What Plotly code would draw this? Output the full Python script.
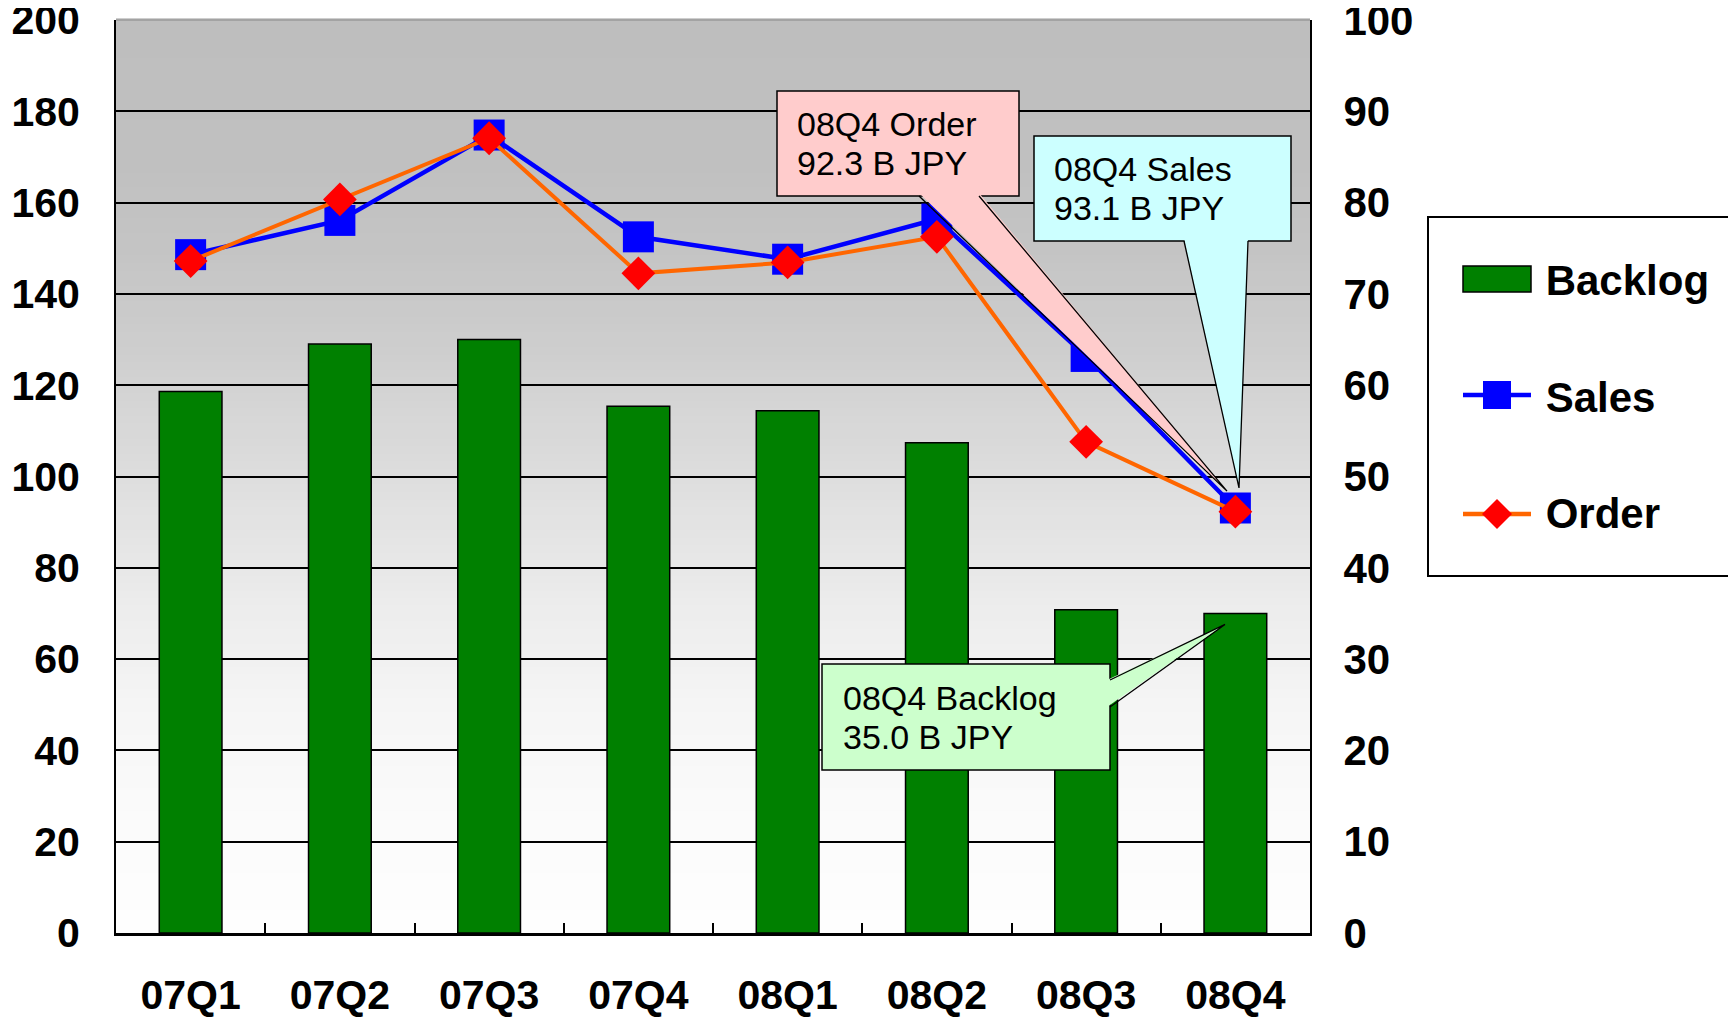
import plotly.graph_objects as go

# ---------------- data ----------------
categories = ["07Q1", "07Q2", "07Q3", "07Q4", "08Q1", "08Q2", "08Q3", "08Q4"]
backlog = [59.3, 64.5, 65.0, 57.7, 57.2, 53.7, 35.4, 35.0]      # right axis (B JPY)
sales = [148.6, 156.1, 174.8, 152.5, 147.6, 156.4, 126.3, 93.1]  # left axis (B JPY)
order = [147.2, 160.7, 174.1, 144.5, 146.9, 152.5, 107.6, 92.3]  # left axis (B JPY)
left_ticks = list(range(0, 201, 20))
right_ticks = list(range(0, 101, 10))
series_names = ["Backlog", "Sales", "Order"]
LEFT_MAX, RIGHT_MAX = 200, 100

# ---------------- layout geometry (screen pixels) ----------------
OFF = 8                      # page body margin
W, H = 1736 - OFF, 1018 - OFF
PL, PR, PT, PB = 116, 1310, 20, 933
NCAT = len(categories)

GREEN, BLUE, ORANGE, RED = "#008000", "#0000FF", "#FF6600", "#FF0000"


def px_x(px):
    return (px - PL) / (PR - PL) * NCAT - 0.5


def px_y(py):
    return (PB - py) / (PB - PT) * LEFT_MAX


def pap_x(px):
    return (px - PL) / (PR - PL)


def pap_y(py):
    return (PB - py) / (PB - PT)


xs = list(range(NCAT))
SANS = "Liberation Sans, Arial, sans-serif"
BOLD = dict(family=SANS, color="black", weight="bold")

fig = go.Figure()
fig.add_trace(go.Bar(
    x=xs, y=backlog, name=series_names[0], yaxis="y2", width=0.42,
    marker=dict(color=GREEN, line=dict(color="black", width=1.5)),
    legendgroup="a", showlegend=False,
))
fig.add_trace(go.Scatter(
    x=xs, y=sales, name=series_names[1], mode="lines+markers",
    line=dict(color=BLUE, width=4.5),
    marker=dict(symbol="square", size=31, color=BLUE),
    legendgroup="b", showlegend=False,
))
fig.add_trace(go.Scatter(
    x=xs, y=order, name=series_names[2], mode="lines+markers",
    line=dict(color=ORANGE, width=4),
    marker=dict(symbol="diamond", size=26, color=RED),
    legendgroup="c", showlegend=False,
))
# legend entries (symbols are drawn as larger shapes below)
for nm, grp in zip(series_names, ["a", "b", "c"]):
    fig.add_trace(go.Scatter(x=[None], y=[None], mode="markers", name="\u00a0" + nm,
                             marker=dict(color="rgba(0,0,0,0)", size=1),
                             legendgroup=grp, showlegend=True, hoverinfo="skip"))

shapes = []
# background gradient (grey top -> white bottom)
stops = [(1.0, 190), (0.85, 192), (0.75, 196), (0.65, 205), (0.55, 216),
         (0.45, 227), (0.35, 237), (0.25, 245), (0.15, 250), (0.05, 253), (0.0, 254)]


def grey_at(f):
    for (f1, g1), (f2, g2) in zip(stops[:-1], stops[1:]):
        if f2 <= f <= f1:
            t = (f - f2) / (f1 - f2) if f1 != f2 else 0
            return g2 + (g1 - g2) * t
    return 255


NB = 120
for i in range(NB):
    y0 = i / NB
    y1 = (i + 1) / NB
    g = int(round(grey_at((y0 + y1) / 2)))
    shapes.append(dict(type="rect", xref="x domain", yref="y domain",
                       x0=0, x1=1, y0=y0, y1=y1 + 0.002, layer="below",
                       fillcolor=f"rgb({g},{g},{g})", line=dict(width=0)))

# top border (grey)
shapes.append(dict(type="line", xref="paper", yref="paper", x0=0, x1=1, y0=1, y1=1,
                   line=dict(color="#9A9A9A", width=1.5), layer="above"))


def callout(box_px, base_pts_px, tip, fill):
    x0, x1, y0, y1 = box_px
    shapes.append(dict(type="rect", xref="x", yref="y",
                       x0=px_x(x0), x1=px_x(x1), y0=px_y(y1), y1=px_y(y0),
                       fillcolor=fill, line=dict(color="black", width=1.5), layer="above"))
    (ax_, ay_), (bx_, by_) = [(px_x(p[0]), px_y(p[1])) for p in base_pts_px]
    (ax2, ay2), (bx2, by2) = [(px_x(p[0] + p[2]), px_y(p[1] + p[3])) for p in base_pts_px]
    tx, ty = tip
    shapes.append(dict(type="path", xref="x", yref="y",
                       path=f"M {ax2},{ay2} L {tx},{ty} L {bx2},{by2} Z",
                       fillcolor=fill, line=dict(width=0), layer="above"))
    shapes.append(dict(type="path", xref="x", yref="y",
                       path=f"M {ax_},{ay_} L {tx},{ty} L {bx_},{by_}",
                       fillcolor="rgba(0,0,0,0)", line=dict(color="black", width=1.3), layer="above"))


# Order callout (pink)
callout((777, 1019, 91, 196),
        [(919, 196, 0, -3), (979, 196, 0, -3)],
        (px_x(1227), order[-1] + 4.5), "#FFCCCC")
# Sales callout (cyan)
callout((1034, 1291, 136, 241),
        [(1184, 241, 0, -3), (1248, 241, 0, -3)],
        (px_x(1239), sales[-1] + 4.4), "#CCFFFF")
# Backlog callout (green)
callout((822, 1110, 664, 770),
        [(1110, 680, -3, 0), (1110, 707, -3, 0)],
        (px_x(1225), backlog[-1] * LEFT_MAX / RIGHT_MAX - 2.4), "#CCFFCC")

# legend frame
shapes.append(dict(type="rect", xref="paper", yref="paper",
                   x0=pap_x(1428), x1=pap_x(1731), y0=pap_y(576), y1=pap_y(217),
                   fillcolor="white", line=dict(color="black", width=2), layer="below"))
# legend symbols
LX0, LX1 = 1463, 1531
LY = [279, 395, 514]
LCX = (LX0 + LX1) / 2
shapes.append(dict(type="rect", xref="paper", yref="paper",
                   x0=pap_x(LX0), x1=pap_x(LX1), y0=pap_y(LY[0] + 13), y1=pap_y(LY[0] - 13),
                   fillcolor=GREEN, line=dict(color="black", width=1.5), layer="above"))
shapes.append(dict(type="line", xref="paper", yref="paper",
                   x0=pap_x(LX0), x1=pap_x(LX1), y0=pap_y(LY[1]), y1=pap_y(LY[1]),
                   line=dict(color=BLUE, width=4.5), layer="above"))
shapes.append(dict(type="rect", xref="paper", yref="paper",
                   x0=pap_x(LCX - 14), x1=pap_x(LCX + 14), y0=pap_y(LY[1] + 14), y1=pap_y(LY[1] - 14),
                   fillcolor=BLUE, line=dict(width=0), layer="above"))
shapes.append(dict(type="line", xref="paper", yref="paper",
                   x0=pap_x(LX0), x1=pap_x(LX1), y0=pap_y(LY[2]), y1=pap_y(LY[2]),
                   line=dict(color=ORANGE, width=4.5), layer="above"))
shapes.append(dict(type="path", xref="paper", yref="paper",
                   path=(f"M {pap_x(LCX - 15)},{pap_y(LY[2])} L {pap_x(LCX)},{pap_y(LY[2] - 15)} "
                         f"L {pap_x(LCX + 15)},{pap_y(LY[2])} L {pap_x(LCX)},{pap_y(LY[2] + 15)} Z"),
                   fillcolor=RED, line=dict(width=0), layer="above"))

annotations = []


def text_line(txt, px, py):
    annotations.append(dict(text=txt, xref="paper", yref="paper", x=pap_x(px), y=pap_y(py),
                            xanchor="left", yanchor="middle", showarrow=False, align="left",
                            borderpad=0,
                            font=dict(family=SANS, size=34, color="black")))


text_line("08Q4 Order", 796, 124)
text_line(f"{order[-1]:.1f} B JPY", 796, 163)
text_line("08Q4 Sales", 1053, 169)
text_line(f"{sales[-1]:.1f} B JPY", 1053, 208)
text_line("08Q4 Backlog", 842, 698)
text_line(f"{backlog[-1]:.1f} B JPY", 842, 737)

fig.update_layout(
    width=W, height=H, autosize=False,
    margin=dict(l=PL - OFF, r=W - (PR - OFF), t=PT - OFF, b=H - (PB - OFF), autoexpand=False),
    paper_bgcolor="white", plot_bgcolor="rgba(0,0,0,0)",
    shapes=shapes, annotations=annotations,
    showlegend=True,
    legend=dict(x=pap_x(1458), y=pap_y(245), xanchor="left", yanchor="top",
                bgcolor="rgba(0,0,0,0)", borderwidth=0,
                font=dict(family=SANS, size=42, color="black", weight="bold"),
                itemwidth=66, tracegroupgap=59, traceorder="grouped"),
    xaxis=dict(range=[-0.5, NCAT - 0.5], tickvals=xs, ticktext=categories,
               ticks="", showgrid=False, zeroline=False, automargin=False,
               showline=True, linecolor="black", linewidth=3,
               ticklabelstandoff=24, ticklabeloverflow="allow",
               tickfont=dict(size=41, **BOLD),
               minor=dict(tickvals=[i + 0.5 for i in range(NCAT - 1)], ticks="inside",
                          ticklen=10, tickcolor="black", tickwidth=1.5, showgrid=False)),
    yaxis=dict(range=[0, LEFT_MAX], tickvals=left_ticks, ticks="inside", ticklen=12,
               tickcolor="black", tickwidth=1.5, automargin=False,
               showgrid=True, gridcolor="black", gridwidth=1.5, zeroline=False,
               showline=True, linecolor="black", linewidth=2,
               ticklabelstandoff=26, ticklabeloverflow="allow", tickfont=dict(size=41, **BOLD)),
    yaxis2=dict(range=[0, RIGHT_MAX], tickvals=right_ticks, overlaying="y", side="right",
                ticks="inside", ticklen=12, tickcolor="black", tickwidth=1.5, automargin=False,
                showgrid=False, zeroline=False, showline=True, linecolor="black", linewidth=2,
                ticklabelstandoff=23, ticklabeloverflow="allow", tickfont=dict(size=42, **BOLD)),
)

fig.write_html("out.html")
